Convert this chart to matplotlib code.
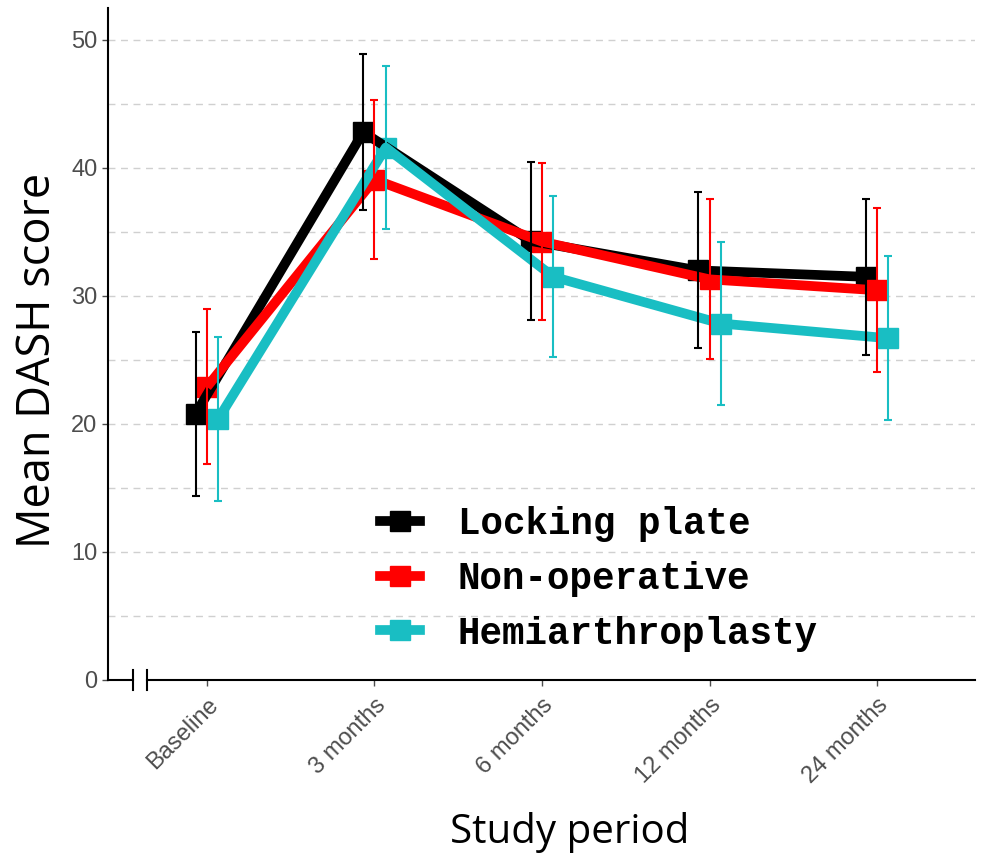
import numpy as np
import matplotlib
matplotlib.use("Agg")
import matplotlib.pyplot as plt
from matplotlib.lines import Line2D

# Data
periods = ["Baseline", "3 months", "6 months", "12 months", "24 months"]
groups = ["Locking plate", "Non-operative", "Hemiarthroplasty"]
colors = ["#000000", "#ff0000", "#19bec3"]

locking_mean = [20.8, 42.8, 34.3, 32.0, 31.5]
locking_err = [6.4, 6.1, 6.2, 6.1, 6.1]
nonop_mean = [22.9, 39.1, 34.25, 31.3, 30.45]
nonop_err = [6.05, 6.2, 6.15, 6.25, 6.4]
hemi_mean = [20.4, 41.6, 31.5, 27.85, 26.7]
hemi_err = [6.4, 6.4, 6.3, 6.4, 6.4]

means = [locking_mean, nonop_mean, hemi_mean]
errs = [locking_err, nonop_err, hemi_err]
dodge = [-0.0675, 0.0, 0.0675]

fig = plt.figure(figsize=(9.82, 8.56), dpi=100)
ax = fig.add_axes([108/982, 1-680/856, (975-108)/982, (680-8)/856])

x = np.arange(len(periods))

# grid lines every 5
for yv in np.arange(5, 51, 5):
    ax.axhline(yv, color="#d0d0d0", lw=1.0, ls=(0, (5, 4)), zorder=0)

handles = []
for i in range(3):
    xs = x + dodge[i]
    ax.plot(xs, means[i], color=colors[i], lw=7, zorder=3, solid_capstyle="butt")
    ax.plot(xs, means[i], ls="none", marker="s", ms=15, color=colors[i], zorder=2)
    ax.errorbar(xs, means[i], yerr=errs[i], fmt="none", ecolor=colors[i],
                elinewidth=1.5, capsize=3, capthick=1.5, zorder=4)
    handles.append(Line2D([], [], color=colors[i], lw=7, marker="s", ms=15))

ax.set_xlim(-0.591, 4.585)
ax.set_ylim(0, 52.5)
ax.set_xticks(x)
ax.set_xticklabels(periods, rotation=45, ha="right", rotation_mode="anchor",
                   fontsize=17, color="#4d4d4d", family="Liberation Sans")
ax.set_yticks(np.arange(0, 51, 10))
ax.set_yticklabels([str(v) for v in range(0, 51, 10)], fontsize=17,
                   color="#4d4d4d", family="Liberation Sans")
ax.tick_params(axis="both", colors="#4d4d4d", length=4, width=1)
ax.tick_params(axis="x", pad=6)

for s in ["top", "right", "bottom"]:
    ax.spines[s].set_visible(False)
ax.spines["left"].set_linewidth(1.5)

# bottom axis with break marks
tr = ax.get_xaxis_transform()
b1 = (133-108)/867
b2 = (147-108)/867
xl = ax.get_xlim()
def fx(f):
    return xl[0] + f*(xl[1]-xl[0])
ax.plot([fx(0), fx(b1)], [0, 0], color="black", lw=1.5, transform=tr, clip_on=False)
ax.plot([fx(b2), fx(1)], [0, 0], color="black", lw=1.5, transform=tr, clip_on=False)
for b in [b1, b2]:
    ax.plot([fx(b), fx(b)], [-0.015, 0.015], color="black", lw=1.5, transform=tr, clip_on=False)

ax.set_ylabel("Mean DASH score", fontsize=32.5, family="Open Sans")
ax.yaxis.set_label_coords(-0.054, 0.476)
ax.set_xlabel("Study period", fontsize=29, family="Open Sans")
ax.xaxis.set_label_coords(0.532, -0.196)

leg = ax.legend(handles, groups, loc="upper left", bbox_to_anchor=(380/982, 1-506/856),
                bbox_transform=fig.transFigure, borderaxespad=0, borderpad=0,
                frameon=False, prop={"family": "Liberation Mono", "weight": "bold", "size": 27},
                handlelength=1.07, handletextpad=1.0, labelspacing=0.5)

fig.savefig("out.png", dpi=100)
